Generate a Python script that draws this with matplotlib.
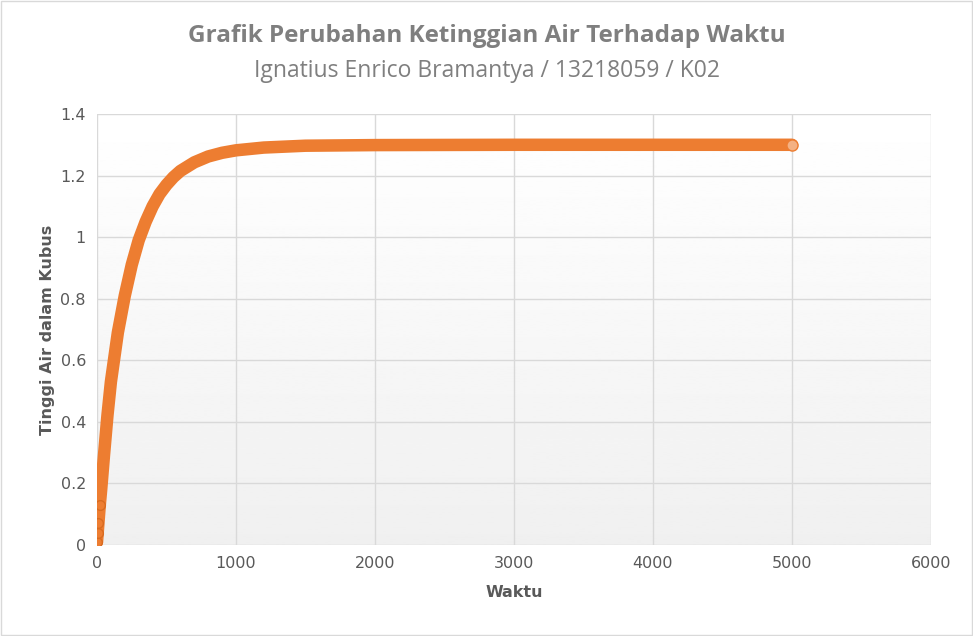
import numpy as np
import matplotlib
matplotlib.use('Agg')
import matplotlib.pyplot as plt

# values
waktu = [0, 5, 10, 20, 30, 50, 75, 100, 125, 150, 175, 200, 250, 300, 350, 400,
         450, 500, 550, 600, 700, 800, 900, 1000, 1200, 1500, 2000, 3000, 4000, 5000]
tinggi = [0.01, 0.04, 0.07, 0.13, 0.18, 0.29, 0.42, 0.53, 0.61, 0.69, 0.75, 0.81,
          0.91, 0.99, 1.05, 1.10, 1.14, 1.17, 1.195, 1.215, 1.243, 1.262, 1.274,
          1.282, 1.291, 1.297, 1.299, 1.3, 1.3, 1.3]

orange = '#ED7D31'
grid = '#D9D9D9'
text_grey = '#595959'

fig = plt.figure(figsize=(9.73, 6.36), dpi=100)
ax = fig.add_axes([97 / 973, 1 - 545 / 636, (931 - 97) / 973, (545 - 114) / 636])

# plot area gradient, white at top to light grey at bottom
grad = np.linspace(1.0, 0.94, 256).reshape(-1, 1)
ax.imshow(grad, extent=[0, 6000, 0, 1.4], aspect='auto', cmap='gray',
          vmin=0, vmax=1, origin='upper', zorder=0)

ax.plot(waktu, tinggi, color=orange, lw=9, solid_capstyle='round',
        solid_joinstyle='round', zorder=3)
ax.plot(waktu[:4], tinggi[:4], 'o', ms=7, mfc=orange, mec='#D96B20', zorder=4)
ax.plot(waktu[-1], tinggi[-1], 'o', ms=8, mfc='#F4B183', mec=orange, zorder=4)

ax.set_xlim(0, 6000)
ax.set_ylim(0, 1.4)
ax.set_xticks(range(0, 6001, 1000))
ax.set_yticks([0, 0.2, 0.4, 0.6, 0.8, 1, 1.2, 1.4])
ax.set_yticklabels(['0', '0.2', '0.4', '0.6', '0.8', '1', '1.2', '1.4'])
ax.grid(True, color=grid, lw=1)
ax.set_axisbelow(False)
for s in ax.spines.values():
    s.set_visible(False)
ax.tick_params(length=0, colors=text_grey, labelsize=11.5, pad=8)

ax.set_xlabel('Waktu', fontsize=11.5, fontweight='bold', color=text_grey, labelpad=10)
ax.set_ylabel('Tinggi Air dalam Kubus', fontsize=11.5, fontweight='bold', color=text_grey)

fig.text(0.5, 1 - 36 / 636, 'Grafik Perubahan Ketinggian Air Terhadap Waktu',
         ha='center', va='center', fontsize=17.5, fontweight='bold', color='#7F7F7F',
         family='Open Sans')
fig.text(0.5, 1 - 71 / 636, 'Ignatius Enrico Bramantya / 13218059 / K02',
         ha='center', va='center', fontsize=16.5, color='#7F7F7F', family='Open Sans')

fig.patches.append(plt.Rectangle((0.001, 0.001), 0.998, 0.998, transform=fig.transFigure,
                                 fill=False, ec='#D9D9D9', lw=1))
fig.savefig('out.png', dpi=100)
